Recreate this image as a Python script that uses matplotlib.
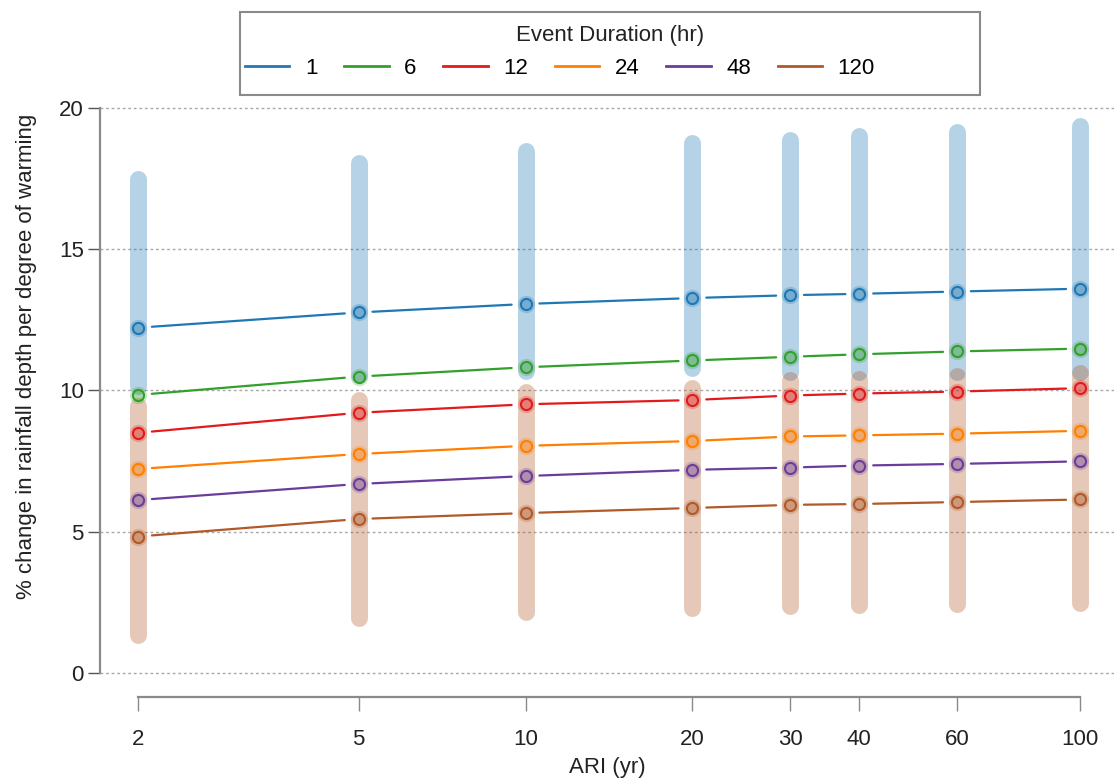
import numpy as np
import matplotlib
matplotlib.use("Agg")
import matplotlib.pyplot as plt
from matplotlib.lines import Line2D
from matplotlib.patches import Rectangle
from matplotlib.colors import to_rgba
from matplotlib.ticker import FixedLocator, NullLocator

plt.rcParams['font.family'] = ['Liberation Sans', 'DejaVu Sans']
plt.rcParams['font.size'] = 16

ari = [2, 5, 10, 20, 30, 40, 60, 100]
durations = ['1', '6', '12', '24', '48', '120']
colors = ['#1f78b4', '#33a02c', '#e31a1c', '#ff7f00', '#6a3d9a', '#b15928']

# central estimate for each duration
d1 = [12.22, 12.76, 13.06, 13.27, 13.37, 13.42, 13.50, 13.60]
d6 = [9.84, 10.49, 10.82, 11.06, 11.19, 11.28, 11.38, 11.48]
d12 = [8.50, 9.21, 9.51, 9.66, 9.82, 9.89, 9.96, 10.08]
d24 = [7.22, 7.75, 8.04, 8.21, 8.37, 8.41, 8.47, 8.57]
d48 = [6.12, 6.69, 6.97, 7.19, 7.27, 7.34, 7.40, 7.49]
d120 = [4.83, 5.45, 5.66, 5.84, 5.95, 5.98, 6.05, 6.14]
series = [d1, d6, d12, d24, d48, d120]

# ranges (1 hr and 120 hr)
range1_lo = [10.15, 10.55, 10.70, 10.79, 10.67, 10.67, 10.67, 10.67]
range1_hi = [17.48, 18.05, 18.46, 18.74, 18.87, 18.99, 19.16, 19.35]
range120_lo = [1.36, 1.96, 2.15, 2.29, 2.37, 2.40, 2.43, 2.48]
range120_hi = [9.45, 9.66, 9.95, 10.10, 10.36, 10.41, 10.51, 10.63]

W, H = 1114, 778
fig = plt.figure(figsize=(W / 100, H / 100), dpi=100)
ax = fig.add_axes([100 / W, (H - 697) / H, (W - 100) / W, (697 - 85) / H])
ax.set_xscale('log')
ax.set_xlim(1.708, 115.2)
ax.set_ylim(-0.85, 20.81)

# grid
for yv in [0, 5, 10, 15, 20]:
    ax.axhline(yv, color='#a8a8a8', lw=1, ls=(0, (2, 2)), zorder=1)

# range bars
for lo, hi, c in [(range1_lo, range1_hi, colors[0]),
                  (range120_lo, range120_hi, colors[5])]:
    for x, a, b in zip(ari, lo, hi):
        ax.plot([x, x], [a, b], color=c, alpha=0.33, lw=12.2,
                solid_capstyle='round', zorder=2)

# lines with gaps around the points
for vals, c in zip(series, colors):
    for i in range(len(ari) - 1):
        ax.annotate('', xy=(ari[i + 1], vals[i + 1]), xytext=(ari[i], vals[i]),
                    arrowprops=dict(arrowstyle='-', color=c, lw=1.6,
                                    shrinkA=10, shrinkB=10), zorder=3)
    ax.plot(ari, vals, 'o', ms=12.5, color=c, alpha=0.25, mew=0, zorder=4)
    ax.plot(ari, vals, 'o', ms=8, mfc=to_rgba(c, 0.22), mec=c, mew=1.5,
            zorder=5)

# axes styling
for s in ['top', 'right']:
    ax.spines[s].set_visible(False)
ax.spines['left'].set_bounds(0, 20)
ax.spines['bottom'].set_bounds(2, 100)
for s in ['left', 'bottom']:
    ax.spines[s].set_color('#8a8a8a')
    ax.spines[s].set_linewidth(1.6)

ax.xaxis.set_major_locator(FixedLocator(ari))
ax.xaxis.set_minor_locator(NullLocator())
ax.set_xticklabels([str(v) for v in ari])
ax.set_yticks([0, 5, 10, 15, 20])
ax.tick_params(axis='x', length=10, width=1, color='#8a8a8a', pad=13,
               labelsize=16, labelcolor='#222222')
ax.tick_params(axis='y', length=8.6, width=1, color='#555555', pad=3,
               labelsize=16, labelcolor='#222222')

ax.set_xlabel('ARI (yr)', color='#222222')
ax.xaxis.set_label_coords(0.5, -0.098)
ax.set_ylabel('% change in rainfall depth per degree of warming',
              color='#222222')
ax.yaxis.set_label_coords((37 - 100) / (W - 100), (697 - 356) / (697 - 85))

# legend
handles = [Line2D([], [], color=c, lw=2) for c in colors]
fig.legend(handles, durations, ncol=6, frameon=False, loc='center left',
           bbox_to_anchor=(245 / W, (H - 68) / H), borderpad=0,
           borderaxespad=0, handlelength=2.0, handletextpad=0.7,
           columnspacing=1.2, fontsize=16)
fig.text(610 / W, (H - 36) / H, 'Event Duration (hr)', ha='center',
         va='center', fontsize=16, color='#222222')
fig.add_artist(Rectangle((240 / W, (H - 95) / H), 740 / W, 83 / H,
                         transform=fig.transFigure, fill=False,
                         edgecolor='#8a8a8a', lw=1.5))

fig.savefig('out.png', dpi=100)
